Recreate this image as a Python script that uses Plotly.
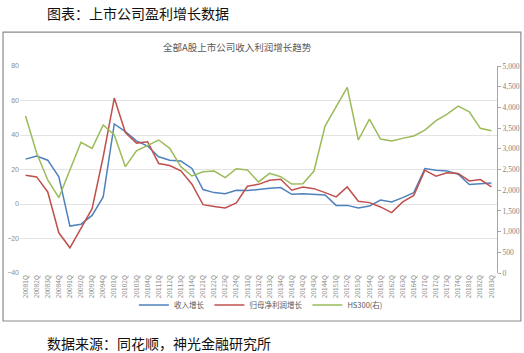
import plotly.graph_objects as go

categories = [
    "20081Q", "20082Q", "20083Q", "20084Q",
    "20091Q", "20092Q", "20093Q", "20094Q",
    "20101Q", "20102Q", "20103Q", "20104Q",
    "20111Q", "20112Q", "20113Q", "20114Q",
    "20121Q", "20122Q", "20123Q", "20124Q",
    "20131Q", "20132Q", "20133Q", "20134Q",
    "20141Q", "20142Q", "20143Q", "20144Q",
    "20151Q", "20152Q", "20153Q", "20154Q",
    "20161Q", "20162Q", "20163Q", "20164Q",
    "20171Q", "20172Q", "20173Q", "20174Q",
    "20181Q", "20182Q", "20183Q",
]

revenue_growth = [
    26.0, 27.8, 25.4, 15.7, -12.8, -11.7, -6.6, 4.1, 46.4, 42.0, 36.6, 33.6,
    27.4, 25.4, 24.9, 20.6, 8.4, 6.6, 6.0, 8.0, 7.8, 8.6, 9.1, 9.5,
    5.6, 6.0, 5.6, 5.2, -0.8, -0.8, -2.3, -1.2, 2.3, 1.2, 3.7, 6.6,
    20.6, 19.6, 19.2, 17.3, 11.3, 11.8, 12.2,
]

profit_growth = [
    16.7, 15.7, 7.0, -16.7, -25.4, -14.4, -2.7, 27.4, 61.4, 41.4, 35.3, 36.1,
    23.5, 22.3, 19.2, 11.5, -0.4, -1.4, -2.3, 0.6, 10.3, 11.4, 13.8, 14.4,
    8.0, 9.9, 8.9, 6.6, 4.1, 9.9, 1.6, 0.8, -1.7, -5.0, 1.2, 5.0,
    19.6, 16.1, 18.1, 17.7, 13.4, 14.2, 9.9,
]

hs300 = [
    3792, 2900, 2246, 1819, 2487, 3156, 3011, 3574, 3333, 2568, 2950, 3091,
    3212, 3011, 2568, 2343, 2447, 2463, 2302, 2520, 2487, 2200, 2407, 2326,
    2149, 2157, 2463, 3550, 4033, 4484, 3212, 3719, 3236, 3188, 3252, 3309,
    3453, 3679, 3840, 4033, 3896, 3494, 3437,
]

series_names = ["收入增长", "归母净利润增长", "HS300(右)"]
left_ticks = [-40, -20, 0, 20, 40, 60, 80]
right_ticks = [0, 500, 1000, 1500, 2000, 2500, 3000, 3500, 4000, 4500, 5000]

heading = "图表：上市公司盈利增长数据"
chart_title = "全部A股上市公司收入利润增长趋势"
source = "数据来源：同花顺，神光金融研究所"

fig = go.Figure()
fig.add_trace(go.Scatter(x=categories, y=revenue_growth, name=series_names[0],
                         mode="lines", line=dict(color="#4f81bd", width=1.5)))
fig.add_trace(go.Scatter(x=categories, y=profit_growth, name=series_names[1],
                         mode="lines", line=dict(color="#c0504d", width=1.5)))
fig.add_trace(go.Scatter(x=categories, y=hs300, name=series_names[2], yaxis="y2",
                         mode="lines", line=dict(color="#9bbb59", width=1.5)))

cjk = "Noto Sans CJK SC"
fig.update_layout(
    width=524, height=353,
    margin=dict(l=20, r=27, t=66, b=80),
    paper_bgcolor="white", plot_bgcolor="white",
    font=dict(family=cjk, color="#7f7f7f"),
    xaxis=dict(type="category", range=[-0.5, 42.5], tickangle=-90,
               tickfont=dict(size=6.5, color="#8c8c8c", family=cjk),
               showgrid=False, zeroline=False, showline=False, ticks="",
               automargin=False),
    yaxis=dict(range=[-40, 80], tickvals=left_ticks, gridcolor="#e3e3e3",
               gridwidth=1, zeroline=False, showline=False,
               tickfont=dict(size=7, color="#8c8c8c", family="Liberation Sans"),
               automargin=False, ticks=""),
    yaxis2=dict(range=[0, 5000], tickvals=right_ticks, tickformat=",",
                overlaying="y", side="right", showgrid=False, zeroline=False,
                showline=True, linecolor="#a6a6a6", linewidth=1,
                ticks="outside", ticklen=3, tickcolor="#a6a6a6",
                tickfont=dict(size=7.5, color="#7f7f7f", family="Liberation Serif"),
                automargin=False),
    legend=dict(orientation="h", x=0.505, xanchor="center", y=-0.155, yanchor="middle",
                font=dict(size=7.5, color="#595959", family=cjk),
                itemwidth=30, bgcolor="rgba(0,0,0,0)", tracegroupgap=0),
    showlegend=True,
    shapes=[dict(type="rect", xref="paper", yref="paper",
                 x0=-0.0356, x1=1.050, y0=-0.232, y1=1.164,
                 line=dict(color="#8c8c8c", width=1.2), fillcolor="rgba(0,0,0,0)",
                 layer="below")],
    annotations=[
        dict(text=heading, xref="paper", yref="paper", x=0.052, y=1.256,
             xanchor="left", yanchor="middle", showarrow=False,
             font=dict(size=14, color="#111111", family=cjk)),
        dict(text=chart_title, xref="paper", yref="paper", x=0.455, y=1.092,
             xanchor="center", yanchor="middle", showarrow=False,
             font=dict(size=9.5, color="#595959", family=cjk)),
        dict(text=source, xref="paper", yref="paper", x=0.052, y=-0.338,
             xanchor="left", yanchor="middle", showarrow=False,
             font=dict(size=14, color="#111111", family=cjk)),
    ],
)

fig.write_html("out.html")
